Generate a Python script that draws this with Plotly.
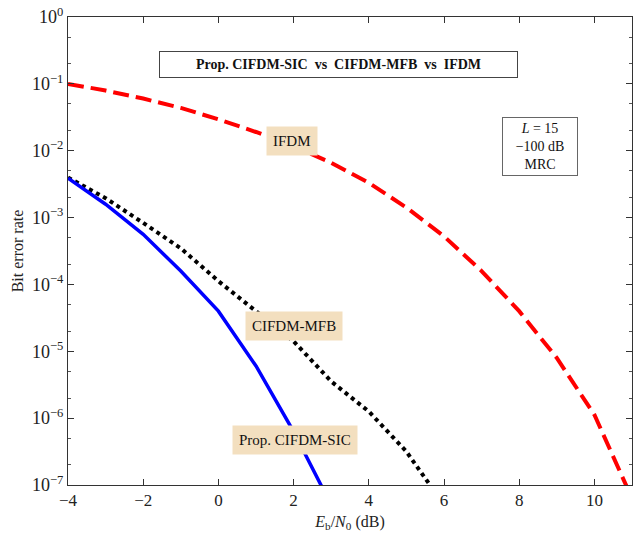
import plotly.graph_objects as go

snr_db = [-4, -3, -2, -1, 0, 1, 2, 3, 4, 5, 6, 7, 8, 9, 10, 11]
ifdm_log = [-1.0, -1.1, -1.22, -1.36, -1.53, -1.72, -1.93, -2.18, -2.48, -2.85, -3.28, -3.8, -4.4, -5.1, -5.95, -7.2]
mfb_x = [-4, -3, -2, -1, 0, 1, 2, 3, 4, 5, 6]
mfb_log = [-2.4, -2.71, -3.08, -3.46, -3.95, -4.4, -4.85, -5.45, -5.9, -6.5, -7.3]
sic_x = [-4, -3, -2, -1, 0, 1, 2, 3]
sic_log = [-2.41, -2.8, -3.25, -3.8, -4.4, -5.22, -6.2, -7.3]

ifdm = [10 ** v for v in ifdm_log]
mfb = [10 ** v for v in mfb_log]
sic = [10 ** v for v in sic_log]

x_ticks = [-4, -2, 0, 2, 4, 6, 8, 10]
x_ticktext = ["\u22124", "\u22122", "0", "2", "4", "6", "8", "10"]
y_exps = [0, -1, -2, -3, -4, -5, -6, -7]

FONT = "Liberation Serif"

fig = go.Figure()
fig.add_trace(go.Scatter(x=snr_db, y=ifdm, mode="lines",
                         line=dict(color="#ff0000", width=4, dash="16px,7px"), name="IFDM"))
fig.add_trace(go.Scatter(x=mfb_x, y=mfb, mode="lines",
                         line=dict(color="#000000", width=4, dash="dot"), name="CIFDM-MFB"))
fig.add_trace(go.Scatter(x=sic_x, y=sic, mode="lines",
                         line=dict(color="#0000ff", width=3.5), name="Prop. CIFDM-SIC"))

fig.update_layout(
    width=633, height=538,
    margin=dict(l=68, r=1, t=17, b=53),
    paper_bgcolor="white", plot_bgcolor="white",
    showlegend=False,
    font=dict(family=FONT, size=17, color="#222"),
    xaxis=dict(range=[-4, 11], tickvals=x_ticks, ticktext=x_ticktext,
               ticks="inside", ticklen=6, tickcolor="#333", showgrid=False, zeroline=False,
               showline=True, linecolor="#333", linewidth=1, mirror="ticks",
               tickfont=dict(family=FONT, size=17),
               title=dict(text="<i>E</i><sub>b</sub>/<i>N</i><sub>0</sub> (dB)",
                          font=dict(family=FONT, size=16), standoff=6)),
    yaxis=dict(type="log", range=[-7, 0],
               tickvals=[10 ** e for e in y_exps],
               ticktext=["10<sup>%s</sup>" % (str(e).replace("-", "\u2212")) for e in y_exps],
               ticks="inside", ticklen=6, tickcolor="#333", showgrid=False, zeroline=False,
               showline=True, linecolor="#333", linewidth=1, mirror="ticks",
               tickfont=dict(family=FONT, size=18),
               minor=dict(ticks="inside", ticklen=3, tickcolor="#555", showgrid=False),
               title=dict(text="Bit error rate", font=dict(family=FONT, size=16), standoff=4)),
)

fig.add_annotation(xref="paper", yref="paper", x=0.479, y=0.928,
                   text="<b>Prop. CIFDM-SIC  vs  CIFDM-MFB  vs  IFDM</b>",
                   showarrow=False, font=dict(family=FONT, size=14, color="#111"),
                   bordercolor="#444", borderwidth=1, borderpad=5, bgcolor="white",
                   width=347)
fig.add_annotation(xref="paper", yref="paper", x=0.905, y=0.787,
                   text="<i>L</i> = 15<br>\u2212100 dB<br>MRC",
                   showarrow=False, font=dict(family=FONT, size=14, color="#111"),
                   bordercolor="#666", borderwidth=1, borderpad=3, bgcolor="white",
                   width=68, align="center")

label_bg = "#f3dfbf"
# annotation y on a log axis is given in log10 units
fig.add_annotation(x=1.95, y=-1.85, text="IFDM", showarrow=False,
                   font=dict(family=FONT, size=15, color="#111"), bgcolor=label_bg,
                   borderpad=6)
fig.add_annotation(x=2.0, y=-4.62, text="CIFDM-MFB", showarrow=False,
                   font=dict(family=FONT, size=15, color="#111"), bgcolor=label_bg,
                   borderpad=6)
fig.add_annotation(x=2.03, y=-6.32, text="Prop. CIFDM-SIC", showarrow=False,
                   font=dict(family=FONT, size=15, color="#111"), bgcolor=label_bg,
                   borderpad=6)

fig.write_html("out.html")
